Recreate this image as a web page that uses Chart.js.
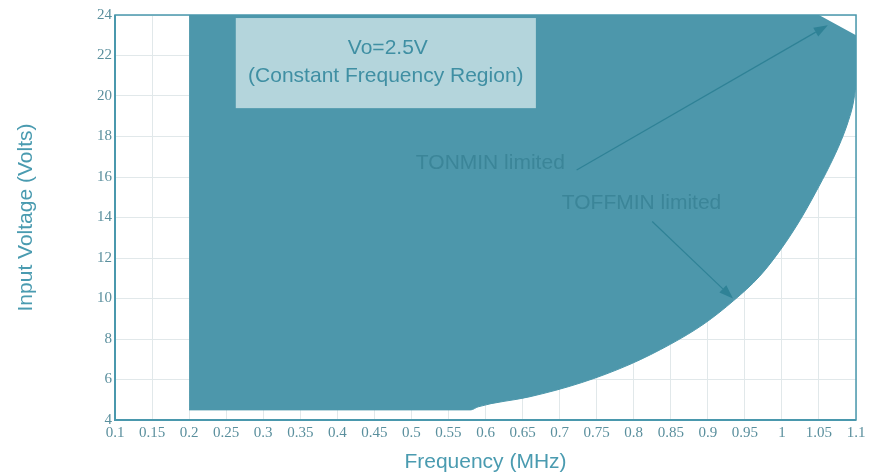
<!DOCTYPE html>
<html>
<head>
<meta charset="utf-8">
<script src="https://cdn.jsdelivr.net/npm/chart.js@4.4.0/dist/chart.umd.min.js"></script>
<style>
  html, body { margin: 0; padding: 0; background: #fff; }
  #wrap { width: 870px; height: 472px; }
</style>
</head>
<body>
<div id="wrap"><canvas id="myChart" width="870" height="472"></canvas></div>
<script>
// frequency (MHz) / input voltage (V)
const upperFreq = [0.2, 1.05, 1.1];
const upperVolt = [24, 24, 23];

const lowerFreq = [0.2, 0.58, 0.59, 0.66, 0.73, 0.795, 0.85, 0.895, 0.935, 0.97, 1.0, 1.025, 1.045, 1.065, 1.08, 1.09, 1.096, 1.1];
const lowerVolt = [4.5, 4.5, 4.65, 5.15, 5.85, 6.75, 7.75, 8.75, 9.9, 11.1, 12.5, 13.9, 15.2, 16.6, 17.8, 18.8, 19.6, 20.5];

const xTicks = [0.1, 0.15, 0.2, 0.25, 0.3, 0.35, 0.4, 0.45, 0.5, 0.55, 0.6, 0.65, 0.7, 0.75, 0.8, 0.85, 0.9, 0.95, 1, 1.05, 1.1];
const yTicks = [4, 6, 8, 10, 12, 14, 16, 18, 20, 22, 24];

const fillColor = '#4d97ab';
const axisColor = '#4a98ad';
const titleColor = '#4a9bb0';

function toPoints(xs, ys) {
    return xs.map((x, i) => ({ x: x, y: ys[i] }));
}

// notes and arrows drawn on top of the region, placed in data units
const notes = {
    box: { x0: 0.263, x1: 0.668, y0: 23.85, y1: 19.4 },
    boxLines: ['Vo=2.5V', '(Constant Frequency Region)'],
    labels: [
        { text: 'TONMIN limited', x: 0.506, y: 16.7 },
        { text: 'TOFFMIN limited', x: 0.703, y: 14.7 }
    ],
    arrows: [
        { x0: 0.723, y0: 16.35, x1: 1.062, y1: 23.5 },
        { x0: 0.825, y0: 13.8, x1: 0.934, y1: 10.0 }
    ]
};

const notesPlugin = {
    id: 'notes',
    afterDatasetsDraw(chart) {
        const ctx = chart.ctx;
        const xs = chart.scales.x, ys = chart.scales.y;
        const px = v => xs.getPixelForValue(v);
        const py = v => ys.getPixelForValue(v);
        ctx.save();

        // text box
        const b = notes.box;
        ctx.fillStyle = '#b4d5dc';
        ctx.fillRect(px(b.x0), py(b.y0), px(b.x1) - px(b.x0), py(b.y1) - py(b.y0));
        ctx.fillStyle = '#3f8fa3';
        ctx.font = '21px "Liberation Sans", Arial, sans-serif';
        ctx.textAlign = 'center';
        ctx.textBaseline = 'middle';
        const cx = (px(b.x0) + px(b.x1)) / 2;
        ctx.fillText(notes.boxLines[0], cx + 2, py(b.y0) + 30);
        ctx.fillText(notes.boxLines[1], cx, py(b.y0) + 58);

        // labels
        ctx.fillStyle = '#3b8598';
        ctx.textAlign = 'left';
        notes.labels.forEach(l => ctx.fillText(l.text, px(l.x), py(l.y)));

        // arrows
        ctx.strokeStyle = '#2f8296';
        ctx.fillStyle = '#2f8296';
        ctx.lineWidth = 1.2;
        notes.arrows.forEach(a => {
            const x0 = px(a.x0), y0 = py(a.y0), x1 = px(a.x1), y1 = py(a.y1);
            const ang = Math.atan2(y1 - y0, x1 - x0);
            const len = 14, w = 5;
            ctx.beginPath();
            ctx.moveTo(x0, y0);
            ctx.lineTo(x1 - len * Math.cos(ang), y1 - len * Math.sin(ang));
            ctx.stroke();
            ctx.beginPath();
            ctx.moveTo(x1, y1);
            ctx.lineTo(x1 - len * Math.cos(ang) + w * Math.sin(ang), y1 - len * Math.sin(ang) - w * Math.cos(ang));
            ctx.lineTo(x1 - len * Math.cos(ang) - w * Math.sin(ang), y1 - len * Math.sin(ang) + w * Math.cos(ang));
            ctx.closePath();
            ctx.fill();
        });

        // frame
        const ca = chart.chartArea;
        ctx.strokeStyle = axisColor;
        ctx.lineWidth = 1.5;
        ctx.strokeRect(ca.left, ca.top, ca.right - ca.left, ca.bottom - ca.top);
        ctx.lineWidth = 2;
        ctx.beginPath();
        ctx.moveTo(ca.left, ca.top);
        ctx.lineTo(ca.left, ca.bottom);
        ctx.lineTo(ca.right, ca.bottom);
        ctx.stroke();
        ctx.restore();
    }
};

let chart;

function renderChart() {
    const ctx = document.getElementById('myChart').getContext('2d');
    chart = new Chart(ctx, {
        type: 'line',
        data: {
            datasets: [{
                data: toPoints(upperFreq, upperVolt),
                borderColor: fillColor,
                backgroundColor: fillColor,
                borderWidth: 0,
                pointRadius: 0,
                fill: '+1'
            }, {
                data: toPoints(lowerFreq, lowerVolt),
                borderColor: fillColor,
                backgroundColor: fillColor,
                borderWidth: 1,
                pointRadius: 0,
                cubicInterpolationMode: 'monotone',
                fill: false
            }]
        },
        options: {
            responsive: false,
            animation: false,
            layout: { padding: { top: 15, right: 14, left: 14, bottom: 0 } },
            plugins: {
                legend: { display: false },
                tooltip: { enabled: false }
            },
            scales: {
                x: {
                    type: 'linear',
                    min: 0.1,
                    max: 1.1,
                    afterBuildTicks: s => { s.ticks = xTicks.map(v => ({ value: v })); },
                    afterFit: s => { s.height = 52; },
                    grid: { color: '#e1e8ea', drawTicks: false },
                    border: { display: false },
                    ticks: {
                        color: '#5a8f9d',
                        padding: 4,
                        maxRotation: 0,
                        autoSkip: false,
                        font: { family: '"Liberation Serif", "Times New Roman", serif', size: 15 },
                        callback: v => String(+v.toFixed(2))
                    },
                    title: {
                        display: true,
                        text: 'Frequency (MHz)',
                        color: titleColor,
                        font: { family: '"Liberation Sans", Arial, sans-serif', size: 21 },
                        padding: { top: 0, bottom: -3 }
                    }
                },
                y: {
                    min: 4,
                    max: 24,
                    afterBuildTicks: s => { s.ticks = yTicks.map(v => ({ value: v })); },
                    afterFit: s => { s.width = 101; },
                    grid: { color: '#e1e8ea', drawTicks: false },
                    border: { display: false },
                    ticks: {
                        color: '#5a8f9d',
                        padding: 3,
                        font: { family: '"Liberation Serif", "Times New Roman", serif', size: 15 }
                    },
                    title: {
                        display: true,
                        text: 'Input Voltage (Volts)',
                        color: titleColor,
                        font: { family: '"Liberation Sans", Arial, sans-serif', size: 21 },
                        padding: { top: 0, bottom: 0 }
                    }
                }
            }
        },
        plugins: [notesPlugin]
    });
}

document.addEventListener('DOMContentLoaded', renderChart);
</script>
</body>
</html>
